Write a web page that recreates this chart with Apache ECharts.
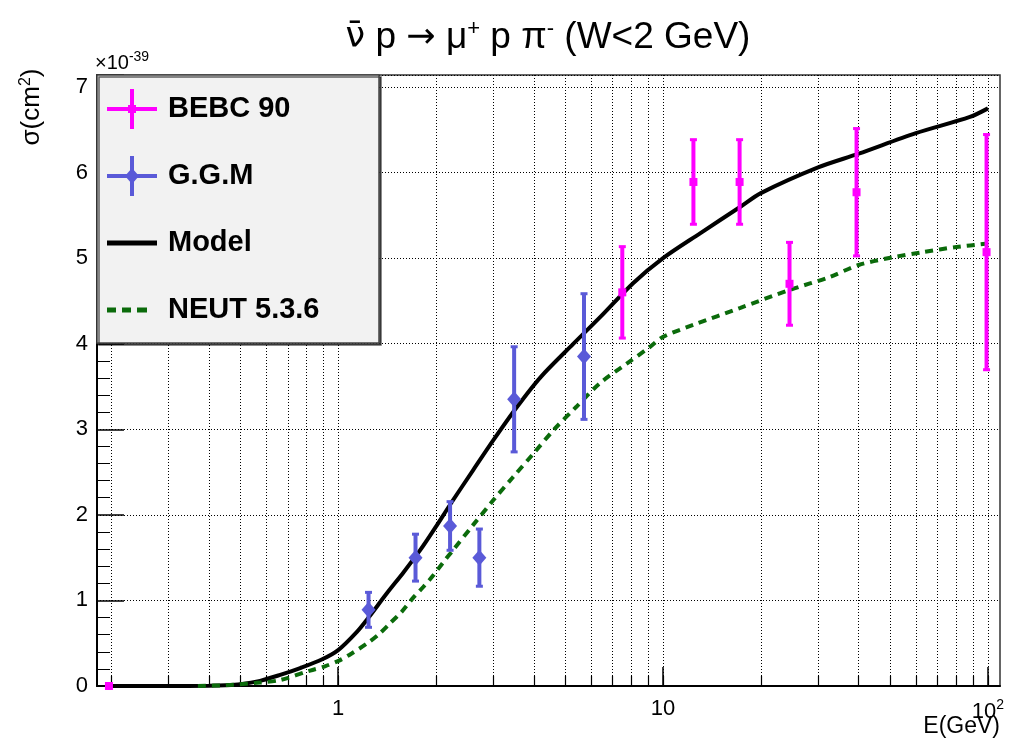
<!DOCTYPE html>
<html>
<head>
<meta charset="utf-8">
<script src="https://cdn.jsdelivr.net/npm/echarts@6/dist/echarts.min.js"></script>
<style>
  html, body { margin: 0; padding: 0; background: #fff; }
  #main { width: 1019px; height: 740px; }
</style>
</head>
<body>
<div id="main"></div>
<script>
// axis range (GeV, log) and cross section range (x1e-39 cm2)
var xMin = 0.181
var xMax = 108.9
var yMax = 7.14

// model curve
var modelE = [0.2, 0.3, 0.4, 0.45, 0.5, 0.575, 0.663, 0.764, 0.89, 1.0, 1.14, 1.24, 1.41, 1.59, 1.79, 1.99, 2.22, 2.6, 3.0, 3.55, 4.2, 5.3, 6.4, 8.1, 10, 13, 17.3, 20, 30, 40, 60, 88, 100]
var modelSigma = [0, 0, 0.003, 0.008, 0.02, 0.06, 0.13, 0.21, 0.31, 0.42, 0.63, 0.80, 1.08, 1.33, 1.59, 1.85, 2.13, 2.52, 2.87, 3.26, 3.61, 4.0, 4.31, 4.71, 5.0, 5.29, 5.6, 5.76, 6.06, 6.22, 6.46, 6.65, 6.75]

// NEUT 5.3.6 curve
var neutE = [0.37, 0.45, 0.575, 0.663, 0.82, 0.91, 1.01, 1.10, 1.23, 1.33, 1.45, 1.57, 1.70, 1.83, 1.96, 2.1, 2.26, 2.6, 3.0, 3.45, 4.0, 4.6, 5.4, 6.4, 7.75, 9.1, 10, 12.4, 17.3, 24.6, 32.6, 40, 51, 63, 80, 100]
var neutSigma = [0, 0.01, 0.04, 0.07, 0.18, 0.23, 0.30, 0.38, 0.50, 0.60, 0.74, 0.87, 1.03, 1.16, 1.29, 1.44, 1.59, 1.88, 2.17, 2.44, 2.72, 2.99, 3.26, 3.54, 3.77, 3.96, 4.08, 4.22, 4.42, 4.63, 4.78, 4.92, 5.01, 5.07, 5.13, 5.17]

// BEBC 90 data
var bebcE = [0.197, 7.49, 12.4, 17.2, 24.5, 39.4, 99]
var bebcSigma = [0, 4.6, 5.89, 5.89, 4.70, 5.77, 5.07]
var bebcErr = [0, 0.54, 0.5, 0.5, 0.49, 0.75, 1.38]

// G.G.M data
var ggmE = [1.24, 1.73, 2.21, 2.72, 3.48, 5.71]
var ggmSigma = [0.89, 1.5, 1.87, 1.5, 3.35, 3.85]
var ggmErr = [0.21, 0.28, 0.29, 0.34, 0.62, 0.74]

// ticks on the log axis
var xMajor = [1, 10, 100]
var xAllTicks = [0.2, 0.3, 0.4, 0.5, 0.6, 0.7, 0.8, 0.9, 1, 2, 3, 4, 5, 6, 7, 8, 9, 10, 20, 30, 40, 50, 60, 70, 80, 90, 100]

var MAGENTA = '#ff00ff'
var BLUE = '#5a5ad8'
var GREEN = '#0b6b0b'
var FONT = 'Liberation Sans, Arial, Helvetica, sans-serif'

function zip(a, b) {
  return a.map(function(v, i) { return [v, b[i]] })
}
function zip3(a, b, c) {
  return a.map(function(v, i) { return [v, b[i], c[i]] })
}

// vertical error bar with a marker
function errorBar(color, marker) {
  return function(params, api) {
    var x = api.value(0)
    var y = api.value(1)
    var e = api.value(2)
    var c = api.coord([x, y])
    var hi = api.coord([x, y + e])
    var lo = api.coord([x, y - e])
    var children = []
    if (e > 0) {
      children.push({ type: 'rect', shape: { x: c[0] - 2, y: hi[1], width: 4, height: lo[1] - hi[1] }, style: { fill: color } })
      children.push({ type: 'rect', shape: { x: c[0] - 3.5, y: hi[1] - 1, width: 7, height: 3 }, style: { fill: color } })
      children.push({ type: 'rect', shape: { x: c[0] - 3.5, y: lo[1] - 2, width: 7, height: 3 }, style: { fill: color } })
    }
    if (marker === 'diamond') {
      children.push({ type: 'polygon', shape: { points: [[c[0], c[1] - 8], [c[0] + 7, c[1]], [c[0], c[1] + 8], [c[0] - 7, c[1]]] }, style: { fill: color } })
    } else {
      children.push({ type: 'rect', shape: { x: c[0] - 4, y: c[1] - 4, width: 8, height: 8 }, style: { fill: color } })
    }
    return { type: 'group', children: children }
  }
}

// legend icons, all in a 50 x 40 box
var crossIcon = 'path://M0,18 H50 V22 H0 Z M23,0 H27 V40 H23 Z M21,16 H29 V24 H21 Z'
var crossDiamondIcon = 'path://M0,18 H50 V22 H0 Z M23,0 H27 V40 H23 Z M25,12 L32,20 L25,28 L18,20 Z'
var lineIcon = 'path://M0,0 L0,0 Z M0,17.5 H50 V22.5 H0 Z M50,40 L50,40 Z'
var dashIcon = 'path://M0,0 L0,0 Z M0,17.5 H9 V22.5 H0 Z M15,17.5 H24 V22.5 H15 Z M30,17.5 H40 V22.5 H30 Z M50,40 L50,40 Z'

var myChart = echarts.init(document.getElementById('main'))
var option = {
  backgroundColor: '#fff',
  animation: false,
  textStyle: { fontFamily: FONT },
  grid: {
    left: 97, right: 19, top: 75, bottom: 54,
    show: true, borderColor: '#333', borderWidth: 1.5
  },
  legend: {
    left: 97, top: 75,
    orient: 'vertical',
    padding: [14, 0, 0, 10],
    itemWidth: 50,
    itemHeight: 40,
    itemGap: 27,
    selectedMode: false,
    z: 6,
    textStyle: { fontFamily: FONT, fontSize: 29, fontWeight: 'bold', color: '#000', padding: [0, 0, 0, 6] },
    data: [
      { name: 'BEBC 90', icon: crossIcon, itemStyle: { color: MAGENTA } },
      { name: 'G.G.M', icon: crossDiamondIcon, itemStyle: { color: BLUE } },
      { name: 'Model', icon: lineIcon, itemStyle: { color: '#000' } },
      { name: 'NEUT 5.3.6', icon: dashIcon, itemStyle: { color: GREEN } }
    ]
  },
  graphic: [
    {
      type: 'rect', z: 3,
      shape: { x: 97, y: 75, width: 282, height: 268 },
      style: { fill: '#f2f2f2', stroke: '#444', lineWidth: 1.5, shadowColor: 'rgba(0,0,0,0.6)', shadowOffsetX: 2, shadowOffsetY: 2, shadowBlur: 0 }
    },
    {
      type: 'text', z: 10,
      style: {
        x: 548, y: 38, align: 'center', verticalAlign: 'middle',
        text: '{g|ν̄}{n| p }{g|→}{n| μ}{s|+}{n| p π}{s|-}{n| (W<2 GeV)}',
        rich: {
          n: { fontFamily: FONT, fontSize: 37, fill: '#000' },
          g: { fontFamily: 'DejaVu Sans', fontSize: 35, fill: '#000' },
          s: { fontFamily: FONT, fontSize: 22, fill: '#000', padding: [0, 0, 18, 0] }
        }
      }
    },
    {
      type: 'text', z: 10,
      style: {
        x: 95, y: 63, align: 'left', verticalAlign: 'middle',
        text: '{n|×10}{s|-39}',
        rich: {
          n: { fontFamily: FONT, fontSize: 20, fill: '#000' },
          s: { fontFamily: FONT, fontSize: 14, fill: '#000', padding: [0, 0, 11, 0] }
        }
      }
    },
    {
      type: 'text', z: 10, x: 32, y: 107, rotation: Math.PI / 2,
      style: {
        x: 0, y: 0, align: 'center', verticalAlign: 'middle',
        text: '{n|σ(cm}{s|2}{n|)}',
        rich: {
          n: { fontFamily: FONT, fontSize: 26, fill: '#000' },
          s: { fontFamily: FONT, fontSize: 16, fill: '#000', padding: [0, 0, 13, 0] }
        }
      }
    },
    {
      type: 'text', z: 10,
      style: {
        x: 1000, y: 727, align: 'right', verticalAlign: 'middle',
        text: 'E(GeV)', fontFamily: FONT, fontSize: 23, fill: '#000'
      }
    }
  ],
  xAxis: [
    {
      type: 'log',
      min: xMin,
      max: xMax,
      position: 'bottom',
      axisLine: { show: true, lineStyle: { color: '#000', width: 2 } },
      axisTick: { show: true, inside: true, length: 10, customValues: xAllTicks, lineStyle: { color: '#000', width: 1.2 } },
      axisLabel: { show: false },
      splitLine: { show: true, lineStyle: { color: '#000', width: 1, type: [1, 2] } }
    },
    {
      type: 'log',
      min: xMin,
      max: xMax,
      position: 'bottom',
      axisLine: { show: false },
      axisTick: { show: true, inside: true, length: 19, customValues: xMajor, lineStyle: { color: '#000', width: 1.5 } },
      axisLabel: {
        show: true,
        customValues: xMajor,
        margin: 12,
        fontFamily: FONT,
        fontSize: 22,
        color: '#000',
        formatter: function(v) {
          var r = Math.round(v)
          return r === 100 ? '{b|10}{s|2}' : String(r)
        },
        rich: {
          b: { fontFamily: FONT, fontSize: 22, color: '#000' },
          s: { fontFamily: FONT, fontSize: 14, color: '#000', padding: [0, 0, 14, 0] }
        }
      },
      splitLine: { show: false }
    }
  ],
  yAxis: {
    type: 'value',
    min: 0,
    max: yMax,
    interval: 1,
    axisLine: { show: true, lineStyle: { color: '#000', width: 2 } },
    axisTick: { show: true, inside: true, length: 27, lineStyle: { color: '#000', width: 1.5 } },
    minorTick: { show: true, splitNumber: 5, length: 13, lineStyle: { color: '#000', width: 1 } },
    axisLabel: {
      margin: 9,
      fontFamily: FONT,
      fontSize: 22,
      color: '#000',
      formatter: function(v) {
        return Math.abs(v - Math.round(v)) < 1e-6 ? String(Math.round(v)) : ''
      }
    },
    splitLine: { show: true, lineStyle: { color: '#000', width: 1, type: [1, 2] } }
  },
  series: [
    {
      name: 'Model',
      type: 'line',
      smooth: 0.3,
      symbol: 'none',
      z: 3,
      color: '#000',
      lineStyle: { color: '#000', width: 4 },
      data: zip(modelE, modelSigma)
    },
    {
      name: 'NEUT 5.3.6',
      type: 'line',
      smooth: 0.3,
      symbol: 'none',
      z: 3,
      color: GREEN,
      lineStyle: { color: GREEN, width: 4, type: [8, 6] },
      data: zip(neutE, neutSigma)
    },
    {
      name: 'BEBC 90',
      type: 'custom',
      z: 4,
      color: MAGENTA,
      renderItem: errorBar(MAGENTA, 'square'),
      data: zip3(bebcE, bebcSigma, bebcErr)
    },
    {
      name: 'G.G.M',
      type: 'custom',
      z: 4,
      color: BLUE,
      renderItem: errorBar(BLUE, 'diamond'),
      data: zip3(ggmE, ggmSigma, ggmErr)
    }
  ]
}
myChart.setOption(option)
</script>
</body>
</html>
